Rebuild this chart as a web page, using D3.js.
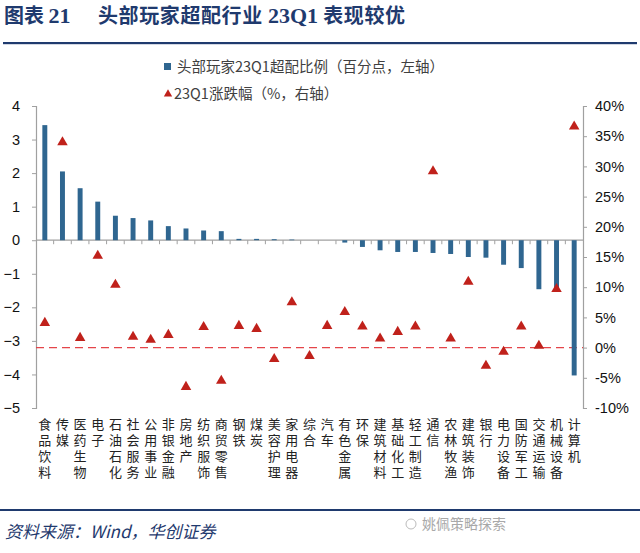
<!DOCTYPE html>
<html><head><meta charset="utf-8">
<script src="https://cdn.jsdelivr.net/npm/d3@7"></script>
<style>body{margin:0;background:#fff}svg{display:block}</style>
</head><body>
<svg id="c" width="640" height="553"></svg>
<script>
const categories = ["食品饮料","传媒","医药生物","电子","石油石化","社会服务","公用事业","非银金融","房地产","纺织服饰","商贸零售","钢铁","煤炭","美容护理","家用电器","综合","汽车","有色金属","环保","建筑材料","基础化工","轻工制造","通信","农林牧渔","建筑装饰","银行","电力设备","国防军工","交通运输","机械设备","计算机"];
const overweight = [3.43,2.05,1.55,1.15,0.73,0.66,0.59,0.42,0.35,0.29,0.27,0.04,0.04,0.03,0.02,0,0,-0.07,-0.2,-0.3,-0.35,-0.35,-0.38,-0.41,-0.5,-0.52,-0.73,-0.83,-1.46,-1.5,-4.03];
const returns = [4.1,34.0,1.6,15.2,10.4,1.8,1.3,2.1,-6.5,3.4,-5.5,3.6,3.1,-1.9,7.5,-1.4,3.6,5.9,3.5,1.5,2.6,3.5,29.2,1.5,10.9,-3.0,-0.7,3.5,0.3,9.7,36.6];
const leftTicks = [4,3,2,1,0,-1,-2,-3,-4,-5];
const rightTicks = [40,35,30,25,20,15,10,5,0,-5,-10];

const svg = d3.select("#c");
const navy = "#1f3a6e";
const barColor = "#2f6690";
const triColor = "#c0211b";
const x0 = 36, x1 = 583, yTop = 106, yBot = 408;

// Title
const title = svg.append("text").attr("x",4).attr("y",23).attr("fill",navy)
  .style("font-family","'Noto Sans CJK SC'").style("font-weight","bold").style("font-size","20px");
title.append("tspan").text("图表 ");
title.append("tspan").style("font-family","'Liberation Serif'").style("font-size","22px").text("21");
title.append("tspan").attr("x",98).attr("letter-spacing","0.6px").text("头部玩家超配行业 ");
title.append("tspan").style("font-family","'Liberation Serif'").style("font-size","22px").text("23Q1");
title.append("tspan").attr("letter-spacing","0.6px").text(" 表现较优");
svg.append("rect").attr("x",3).attr("y",42).attr("width",634).attr("height",2.2).attr("fill",navy);

// Scales
const x = d3.scaleBand().domain(categories).range([x0,x1]).paddingInner(0.72).paddingOuter(0.36);
const xStep = d3.scaleBand().domain(categories).range([x0,x1]);
const yL = d3.scaleLinear().domain([-5,4]).range([yBot,yTop]);
const yR = d3.scaleLinear().domain([-10,40]).range([yBot,yTop]);

// Legend
const lg = svg.append("g").style("font-family","'Noto Sans CJK SC'").style("font-size","14.5px").attr("fill","#404040");
lg.append("rect").attr("x",164).attr("y",63).attr("width",7).attr("height",7).attr("fill",barColor);
lg.append("text").attr("x",177).attr("y",72).text("头部玩家23Q1超配比例（百分点，左轴）");
lg.append("path").attr("d",d3.symbol(d3.symbolTriangle,30)()).attr("transform","translate(168,94)").attr("fill",triColor);
lg.append("text").attr("x",174).attr("y",99).text("23Q1涨跌幅（%，右轴）");

// Axes
const axisColor = "#a0a0a0";
const axL = svg.append("g").attr("transform",`translate(${x0},0)`)
  .call(d3.axisLeft(yL).tickValues(leftTicks).tickSize(4).tickPadding(12).tickFormat(d3.format("d")));
const axR = svg.append("g").attr("transform",`translate(${x1},0)`)
  .call(d3.axisRight(yR).tickValues(rightTicks).tickSize(4).tickPadding(8).tickFormat(d=>d+"%"));
[axL,axR].forEach(a=>{
  a.select(".domain").attr("stroke",axisColor).attr("stroke-width",1.2);
  a.selectAll(".tick line").attr("stroke",axisColor);
  a.selectAll("text").attr("fill","#111").style("font-family","'Liberation Sans',Arial").style("font-size","14.5px");
});

// zero x-axis line with ticks between categories
const y0 = yL(0);
svg.append("line").attr("x1",x0).attr("x2",x1).attr("y1",y0).attr("y2",y0).attr("stroke",axisColor).attr("stroke-width",1.2);
svg.append("g").selectAll("line").data(categories.slice(1)).join("line")
  .attr("x1",d=>xStep(d)).attr("x2",d=>xStep(d)).attr("y1",y0).attr("y2",y0+4).attr("stroke",axisColor);

// dashed zero line of right axis
svg.append("line").attr("x1",x0).attr("x2",x1).attr("y1",yR(0)).attr("y2",yR(0))
  .attr("stroke","#e4454a").attr("stroke-width",1.3).attr("stroke-dasharray","8,5");

// Bars
svg.append("g").selectAll("rect").data(categories).join("rect")
  .attr("x",(d)=>x(d)).attr("width",x.bandwidth())
  .attr("y",(d,i)=>Math.min(yL(overweight[i]),y0))
  .attr("height",(d,i)=>Math.abs(yL(overweight[i])-y0))
  .attr("fill",barColor);

// Triangles
svg.append("g").selectAll("path").data(categories).join("path")
  .attr("d",d3.symbol(d3.symbolTriangle,48)())
  .attr("transform",(d,i)=>`translate(${x(d)+x.bandwidth()/2},${yR(returns[i])})`)
  .attr("fill",triColor);

// X labels (vertical writing mode, one text per category)
svg.append("g").style("font-family","'Noto Sans CJK SC'").style("font-size","13px").attr("fill","#222")
  .selectAll("text").data(categories).join("text")
  .attr("x",d=>x(d)+x.bandwidth()/2).attr("y",418)
  .style("writing-mode","vertical-rl").style("letter-spacing","3px")
  .text(d=>d);

// Footer
svg.append("rect").attr("x",0).attr("y",509).attr("width",640).attr("height",2).attr("fill",navy);
svg.append("text").attr("x",5).attr("y",538).attr("fill",navy)
  .style("font-family","'Noto Sans CJK SC'").style("font-style","italic").style("font-size","17px")
  .text("资料来源：Wind，华创证券");
svg.append("text").attr("x",422).attr("y",529).attr("fill","#a8a8a8")
  .style("font-family","'Noto Sans CJK SC'").style("font-size","14px").text("姚佩策略探索");
svg.append("circle").attr("cx",411).attr("cy",524).attr("r",5).attr("fill","none").attr("stroke","#bbb");
</script>
</body></html>
